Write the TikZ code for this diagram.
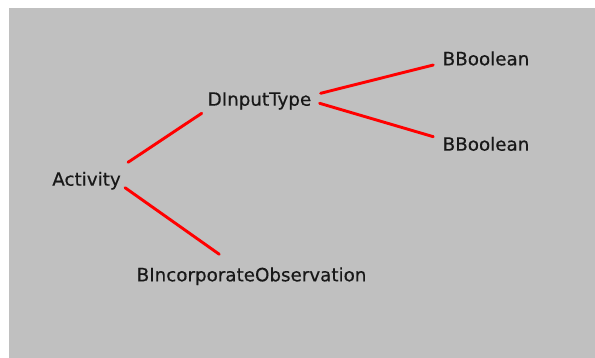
\documentclass[tikz,border=0pt]{standalone}
\usepackage{fontspec}
\setmainfont{DejaVu Sans}[BoldFont=DejaVu Sans,BoldFeatures={FakeBold=0.5}]
\definecolor{panel}{RGB}{192,192,192}
\definecolor{edgered}{RGB}{255,0,0}
\definecolor{ink}{RGB}{24,24,24}
\begin{document}
\begin{tikzpicture}[x=1pt,y=-1pt,
  lbl/.style={anchor=base west,inner sep=0pt,outer sep=0pt,text=ink,
              font=\fontsize{18.3}{20}\selectfont\bfseries},
  link/.style={draw=edgered,line width=2.9pt,line cap=round}]
  \useasboundingbox (0,0) rectangle (595,358);
  \fill[panel] (9,8) rectangle (595,358);

  % tree labels
  \node[lbl] (act)  at (52.3,185.7)  {Activity};
  \node[lbl] (dit)  at (207.7,105.7) {DInputType};
  \node[lbl] (bb1)  at (442.7,65.3)  {BBoolean};
  \node[lbl] (bb2)  at (442.7,150.7) {BBoolean};
  \node[lbl] (bio)  at (136.7,281.3) {BIncorporateObservation};

  % branches
  \draw[link] ([shift={(7.3,-23.4)}]act.base east) -- ([shift={(-6,7.6)}]dit.base west);
  \draw[link] ([shift={(4.3,2)}]act.base east) -- ([shift={(82.6,-27)}]bio.base west);
  \draw[link] ([shift={(9.4,-12.4)}]dit.base east) -- ([shift={(-9.4,-0.3)}]bb1.base west);
  \draw[link] ([shift={(8.4,-2.4)}]dit.base east) -- ([shift={(-9.4,-14)}]bb2.base west);
\end{tikzpicture}
\end{document}
